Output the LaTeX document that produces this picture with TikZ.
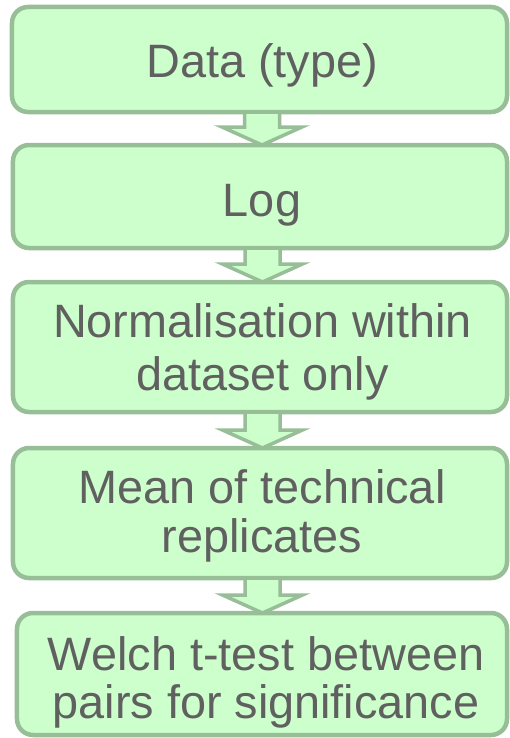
\documentclass[tikz,border=0pt]{standalone}
\usepackage{fontspec}
\setmainfont{Liberation Sans}
\usetikzlibrary{calc}
\definecolor{boxfill}{HTML}{CCFFCC}
\definecolor{boxline}{HTML}{97BE97}
\definecolor{txtcol}{HTML}{606060}
\newcommand\flowarrow[2]{%
  \coordinate (s) at ($(#1.south)+(2.5,0)$);
  \coordinate (e) at (#2.north -| s);
  \draw[blockarr] ($(s)+(-17.5,0)$) -- ($(e)+(-17.5,-18)$) -- ($(e)+(-40,-18)$) -- (e)
     -- ($(e)+(40,-18)$) -- ($(e)+(17.5,-18)$) -- ($(s)+(17.5,0)$) -- cycle;}
\begin{document}
\begin{tikzpicture}[x=1bp,y=-1bp,
  flowbox/.style={draw=boxline, fill=boxfill, line width=4.5bp, rounded corners=16bp,
                  outer sep=0pt, inner sep=0pt},
  lbl/.style={text=txtcol, font=\fontsize{47}{56}\selectfont, inner sep=0pt, anchor=base},
  blockarr/.style={draw=boxline, fill=boxfill, line width=3.5bp, line join=miter}]
\useasboundingbox (0,0) rectangle (510,738);
\node[flowbox, minimum width=495bp, minimum height=105bp] (b1) at (259.5,59.5) {};
\node[flowbox, minimum width=494bp, minimum height=103bp] (b2) at (260,196.5) {};
\node[flowbox, minimum width=494bp, minimum height=130bp] (b3) at (260,347) {};
\node[flowbox, minimum width=494bp, minimum height=130bp] (b4) at (260,513) {};
\node[flowbox, minimum width=490bp, minimum height=122bp] (b5) at (262,674) {};
\node[lbl] (t1) at (262,77) {Data (type)};
\node[lbl] (t2) at (262,216) {Log};
\node[lbl] (t3a) at (262.5,337) {Normalisation within};
\node[lbl] (t3b) at (262.5,390) {dataset only};
\node[lbl] (t4a) at (262,503) {Mean of technical};
\node[lbl] (t4b) at (262,552) {replicates};
\node[lbl] (t5a) at (266,670) {Welch t-test between};
\node[lbl] (t5b) at (266,718) {pairs for significance};
\flowarrow{b1}{b2}
\flowarrow{b2}{b3}
\flowarrow{b3}{b4}
\flowarrow{b4}{b5}
\end{tikzpicture}
\end{document}
